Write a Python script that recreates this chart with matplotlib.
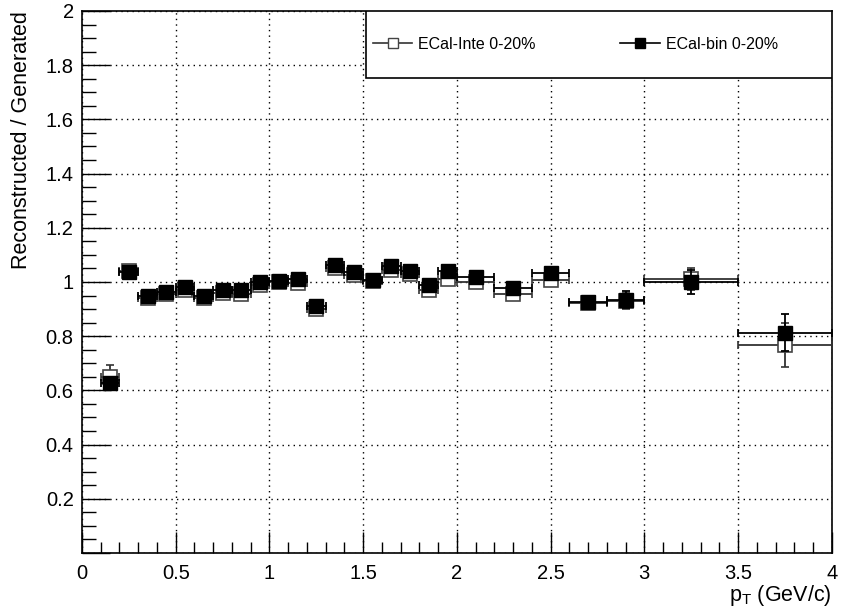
import matplotlib
matplotlib.use("Agg")
import matplotlib.pyplot as plt
from matplotlib.ticker import MultipleLocator, FuncFormatter
from matplotlib.lines import Line2D
from matplotlib.patches import Rectangle
import numpy as np

plt.rcParams['font.family'] = ['Liberation Sans', 'DejaVu Sans']
plt.rcParams['mathtext.fontset'] = 'custom'
plt.rcParams['mathtext.rm'] = 'Liberation Sans'
plt.rcParams['mathtext.it'] = 'Liberation Sans'

# bin edges (GeV/c)
bin_lo = [0.1, 0.2, 0.3, 0.4, 0.5, 0.6, 0.7, 0.8, 0.9, 1.0, 1.1, 1.2, 1.3, 1.4,
          1.5, 1.6, 1.7, 1.8, 1.9, 2.0, 2.2, 2.4, 2.6, 2.8, 3.0, 3.5]
bin_hi = [0.2, 0.3, 0.4, 0.5, 0.6, 0.7, 0.8, 0.9, 1.0, 1.1, 1.2, 1.3, 1.4, 1.5,
          1.6, 1.7, 1.8, 1.9, 2.0, 2.2, 2.4, 2.6, 2.8, 3.0, 3.5, 4.0]

# ECal-Inte 0-20% (open)
inte_val = [0.648, 1.042, 0.940, 0.955, 0.970, 0.940, 0.958, 0.957, 0.990, 1.000,
            0.998, 0.902, 1.050, 1.025, 1.002, 1.043, 1.030, 0.970, 1.012, 1.000,
            0.956, 1.009, 0.921, 0.930, 1.012, 0.768]
inte_err = [0.045, 0.020, 0.018, 0.018, 0.018, 0.018, 0.018, 0.018, 0.018, 0.018,
            0.018, 0.018, 0.020, 0.020, 0.020, 0.020, 0.020, 0.020, 0.020, 0.020,
            0.020, 0.020, 0.022, 0.030, 0.040, 0.080]

# ECal-bin 0-20% (filled)
bin_val = [0.627, 1.037, 0.947, 0.962, 0.980, 0.950, 0.970, 0.972, 0.999, 1.005,
           1.010, 0.912, 1.064, 1.038, 1.009, 1.060, 1.042, 0.988, 1.042, 1.019,
           0.978, 1.034, 0.925, 0.935, 1.000, 0.813]
bin_err = [0.018, 0.015, 0.015, 0.015, 0.015, 0.015, 0.015, 0.015, 0.015, 0.015,
           0.015, 0.015, 0.015, 0.015, 0.015, 0.015, 0.015, 0.015, 0.015, 0.015,
           0.015, 0.018, 0.020, 0.032, 0.045, 0.068]

lo = np.array(bin_lo)
hi = np.array(bin_hi)
x = (lo + hi) / 2
xerr = (hi - lo) / 2

fig = plt.figure(figsize=(8.41, 6.09), dpi=100)
ax = fig.add_axes([0.0975, 0.092, 0.8915, 0.890])

ax.errorbar(x, inte_val, xerr=xerr, yerr=inte_err, fmt='s', mfc='white', mec='#444444',
            mew=1.2, ms=10, color='#333333', elinewidth=1.3, capsize=3, capthick=1.3,
            zorder=3)
ax.errorbar(x, bin_val, xerr=xerr, yerr=bin_err, fmt='s', mfc='black', mec='black',
            ms=10, color='black', elinewidth=1.3, capsize=3, capthick=1.3,
            zorder=4)

ax.set_xlim(0, 4)
ax.set_ylim(0, 2)
ax.xaxis.set_major_locator(MultipleLocator(0.5))
ax.xaxis.set_minor_locator(MultipleLocator(0.1))
ax.yaxis.set_major_locator(MultipleLocator(0.2))
ax.yaxis.set_minor_locator(MultipleLocator(0.05))
ax.xaxis.set_major_formatter(FuncFormatter(lambda v, p: '%g' % v))
ax.yaxis.set_major_formatter(FuncFormatter(lambda v, p: '' if abs(v) < 1e-9 else '%g' % round(v, 2)))

ax.tick_params(axis='both', which='both', direction='in', top=False, right=False,
               labelsize=14.5, width=1)
ax.tick_params(axis='y', which='major', length=20, pad=6)
ax.tick_params(axis='y', which='minor', length=10)
ax.tick_params(axis='x', which='major', length=15, pad=8)
ax.tick_params(axis='x', which='minor', length=8)
for s in ax.spines.values():
    s.set_linewidth(1.2)

ax.grid(True, which='major', linestyle=(0, (1, 3)), color='black', linewidth=1)

ax.set_xlabel(r'$\mathrm{p_{T}}$ (GeV/c)', fontsize=15.5, loc='right', labelpad=0)
ax.set_ylabel('Reconstructed / Generated', fontsize=15.5, loc='top', labelpad=10)

# legend box
box = Rectangle((0.379, 0.876), 0.621, 0.124, transform=ax.transAxes, facecolor='white',
                edgecolor='black', linewidth=1.2, zorder=9)
ax.add_patch(box)
handles = [Line2D([0], [0], color='#333333', lw=1.2, marker='s', mfc='white',
                  mec='#444444', ms=7.5),
           Line2D([0], [0], color='black', lw=1.2, marker='s', mfc='black',
                  mec='black', ms=7.5)]
leg = ax.legend(handles, ['ECal-Inte 0-20%', 'ECal-bin 0-20%'], loc='center left',
                bbox_to_anchor=(0.379, 0.876, 0.621, 0.124), ncol=2, fontsize=11.5,
                frameon=False, borderaxespad=0, borderpad=0.4, handlelength=2.5,
                handletextpad=0.35, columnspacing=5.3)
leg.set_zorder(10)

fig.savefig('out.png', dpi=100)
